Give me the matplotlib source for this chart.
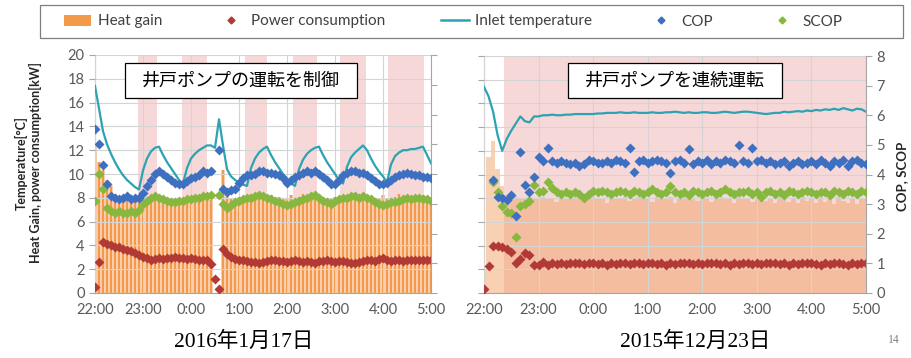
import numpy as np
import matplotlib
matplotlib.use("Agg")
import matplotlib.pyplot as plt
from matplotlib.patches import Patch, Rectangle
from matplotlib.lines import Line2D

plt.rcParams['font.family'] = ['Lato', 'DejaVu Sans']

nan = np.nan

# sampling every 5 minutes from 22:00 to 5:00, in hours after 22:00
minutes = np.arange(0, 421, 5)
hours = minutes / 60
hour_labels = ['22:00', '23:00', '0:00', '1:00', '2:00', '3:00', '4:00', '5:00']

# ---- 2016-01-17 : well pump switched on/off ----
heat_a = [12.5, 11.0, 10.3, 9.5, 9.0, 8.3, 8.0, 7.9, 8.0, 7.8, 8.0, 8.1,
          8.0, 7.9, 8.2, 8.1, 8.0, 7.9, 8.0, 7.8, 7.9, 8.0, 7.8, 8.1,
          8.0, 8.2, 7.9, 8.0, 8.1, 7.8, 0.0, 0.0, 10.3, 8.3, 8.0, 7.9,
          8.1, 8.0, 8.2, 8.3, 8.0, 8.1, 8.4, 8.0, 8.2, 7.9, 8.1, 8.0,
          8.0, 8.2, 7.9, 8.1, 8.3, 8.0, 8.2, 7.9, 8.1, 8.0, 7.8, 8.0,
          8.1, 7.9, 8.2, 8.0, 8.3, 8.1, 7.9, 8.2, 8.0, 8.1, 7.9, 8.0,
          8.2, 8.0, 7.9, 8.1, 8.3, 8.0, 8.2, 8.1, 7.9, 8.0, 8.2, 8.1,
          8.0]
power_a = [0.5, 2.6, 4.3, 4.1, 4.0, 3.9, 3.85, 3.7, 3.6, 3.5, 3.4, 3.2,
           3.0, 2.9, 2.8, 2.85, 2.9, 2.85, 2.9, 2.95, 3.0, 2.95, 2.9, 2.85,
           2.9, 2.85, 2.8, 2.75, 2.8, 2.4, 1.2, 0.3, 3.7, 3.3, 3.0, 2.85,
           2.8, 2.75, 2.7, 2.6, 2.6, 2.55, 2.6, 2.7, 2.75, 2.8, 2.7, 2.65,
           2.6, 2.7, 2.75, 2.65, 2.6, 2.7, 2.6, 2.55, 2.65, 2.7, 2.8, 2.7,
           2.6, 2.65, 2.7, 2.6, 2.5, 2.55, 2.6, 2.7, 2.8, 2.75, 2.7, 2.85,
           2.9, 2.8, 2.7, 2.75, 2.8, 2.7, 2.75, 2.8, 2.8, 2.75, 2.8, 2.8,
           2.75]
inlet_a = [17.4, 15.5, 13.6, 12.5, 11.7, 11.0, 10.4, 9.9, 9.5, 9.2, 8.9, 8.7,
           10.3, 11.3, 11.9, 12.2, 12.3, 11.6, 11.0, 10.5, 10.0, 9.5, 9.2, 10.5,
           11.3, 11.7, 12.0, 12.2, 12.4, 12.4, 12.2, 14.6, 12.4, 10.4, 9.8, 9.5,
           9.3, 9.1, 9.0, 10.5, 11.3, 11.8, 12.1, 12.3, 11.6, 11.0, 10.5, 10.0,
           9.6, 9.2, 9.0, 10.4, 11.2, 11.7, 12.0, 12.2, 12.3, 11.6, 11.0, 10.5,
           10.0, 9.5, 9.2, 10.6, 11.4, 11.8, 12.1, 12.4, 12.0, 11.3, 10.7, 10.2,
           9.8, 9.3, 10.8, 11.5, 11.8, 12.0, 12.0, 12.1, 12.1, 12.2, 12.3, 11.6,
           10.9]
cop_a = [5.5, 5.0, 4.3, 3.65, 3.25, 3.2, 3.15, 3.2, 3.25, 3.15, 3.2, 3.2,
         3.35, 3.6, 3.8, 4.0, 4.1, 4.0, 3.9, 3.8, 3.7, 3.65, 3.65, 3.75,
         3.85, 3.9, 3.95, 4.1, 4.05, 4.1, nan, 4.8, 3.5, 3.4, 3.45, 3.5,
         3.7, 3.85, 3.95, 3.95, 4.0, 4.1, 4.1, 4.05, 4.05, 4.0, 3.95, 3.85,
         3.7, 3.8, 3.9, 3.95, 4.05, 4.1, 4.05, 4.1, 4.0, 3.9, 3.8, 3.65,
         3.65, 3.8, 3.95, 4.05, 4.1, 4.1, 4.05, 4.05, 3.95, 3.85, 3.75, 3.65,
         3.65, 3.7, 3.8, 3.9, 3.95, 4.0, 4.05, 4.0, 3.95, 3.95, 3.9, 3.9,
         3.85]
scop_a = [3.1, 4.0, 3.5, 2.85, 2.75, 2.7, 2.75, 2.7, 2.7, 2.75, 2.7, 2.8,
          3.0, 3.1, 3.2, 3.25, 3.2, 3.15, 3.1, 3.05, 3.05, 3.1, 3.1, 3.15,
          3.15, 3.2, 3.2, 3.25, 3.25, 3.3, nan, 3.3, 3.0, 2.85, 2.95, 3.05,
          3.1, 3.15, 3.2, 3.2, 3.25, 3.3, 3.25, 3.2, 3.15, 3.1, 3.05, 3.0,
          2.95, 3.0, 3.05, 3.1, 3.15, 3.2, 3.25, 3.3, 3.2, 3.1, 3.05, 3.0,
          3.1, 3.15, 3.2, 3.2, 3.25, 3.25, 3.2, 3.25, 3.2, 3.15, 3.05, 3.0,
          2.95, 3.0, 3.05, 3.05, 3.1, 3.15, 3.2, 3.15, 3.2, 3.2, 3.15, 3.15,
          3.1]
# periods with the well pump stopped (hours after 22:00)
stops_a = [(0.90, 1.29), (1.82, 2.34), (3.13, 3.59), (4.13, 4.63), (5.11, 5.64), (6.10, 6.85)]

# ---- 2015-12-23 : well pump running continuously ----
heat_b = [2.0, 11.5, 12.8, 10.5, 9.0, 8.3, 8.0, 8.1, 7.9, 8.0, 8.1, 7.9,
          8.0, 8.1, 7.9, 8.0, 7.7, 8.1, 8.0, 7.9, 8.1, 8.0, 7.8, 8.0,
          8.1, 7.9, 8.0, 7.6, 8.1, 8.0, 7.9, 8.1, 7.8, 8.0, 8.1, 7.9,
          8.0, 7.7, 8.1, 8.0, 7.9, 8.1, 7.6, 8.0, 8.1, 7.9, 8.0, 7.8,
          8.1, 8.0, 7.7, 8.0, 8.1, 7.9, 8.0, 7.6, 8.1, 8.0, 7.9, 7.7,
          8.0, 8.1, 7.8, 8.0, 7.6, 8.1, 8.0, 7.7, 8.0, 7.6, 8.1, 7.8,
          8.0, 7.6, 8.1, 7.7, 8.0, 7.5, 8.1, 7.8, 7.6, 8.0, 7.5, 8.0,
          7.9]
power_b = [0.3, 2.3, 4.0, 4.0, 3.9, 3.7, 3.5, 2.5, 2.9, 3.4, 3.2, 2.4,
           2.4, 2.6, 2.4, 2.5, 2.45, 2.5, 2.45, 2.5, 2.55, 2.5, 2.45, 2.5,
           2.5, 2.45, 2.5, 2.4, 2.5, 2.45, 2.55, 2.5, 2.45, 2.5, 2.5, 2.45,
           2.5, 2.55, 2.45, 2.5, 2.4, 2.5, 2.45, 2.5, 2.55, 2.5, 2.45, 2.5,
           2.45, 2.5, 2.5, 2.55, 2.45, 2.5, 2.4, 2.5, 2.45, 2.55, 2.5, 2.45,
           2.5, 2.45, 2.5, 2.55, 2.5, 2.45, 2.5, 2.4, 2.5, 2.45, 2.5, 2.55,
           2.5, 2.45, 2.4, 2.5, 2.45, 2.5, 2.55, 2.45, 2.4, 2.5, 2.45, 2.5,
           2.5]
inlet_b = [17.4, 16.6, 15.3, 13.3, 12.0, 13.0, 13.7, 14.3, 14.9, 14.5, 14.4, 14.9,
           14.9, 15.0, 15.0, 15.05, 15.0, 15.0, 15.05, 15.05, 15.1, 15.1, 15.1, 15.1,
           15.1, 15.15, 15.15, 15.2, 15.2, 15.2, 15.25, 15.2, 15.2, 15.25, 15.2, 15.2,
           15.2, 15.25, 15.2, 15.2, 15.25, 15.25, 15.3, 15.25, 15.2, 15.25, 15.2, 15.2,
           15.25, 15.25, 15.2, 15.2, 15.25, 15.3, 15.25, 15.2, 15.25, 15.3, 15.3, 15.25,
           15.2, 15.15, 15.1, 15.15, 15.2, 15.2, 15.3, 15.25, 15.3, 15.35, 15.3, 15.4,
           15.35, 15.45, 15.4, 15.5, 15.45, 15.55, 15.45, 15.6, 15.5, 15.4, 15.55, 15.5,
           15.3]
cop_b = [nan, nan, 3.8, 3.25, 3.2, 3.15, 3.3, 2.6, 4.75, 3.65, 3.4, 3.9,
         4.6, 4.45, 4.9, 4.45, 4.4, 4.45, 4.4, 4.35, 4.4, 4.3, 4.35, 4.5,
         4.45, 4.4, 4.4, 4.45, 4.4, 4.5, 4.45, 4.4, 4.9, 4.1, 4.45, 4.5,
         4.4, 4.45, 4.5, 4.45, 4.4, 4.05, 4.45, 4.5, 4.4, 4.85, 4.35, 4.45,
         4.4, 4.5, 4.35, 4.45, 4.4, 4.5, 4.45, 4.4, 5.0, 4.45, 4.4, 4.9,
         4.45, 4.5, 4.4, 4.45, 4.35, 4.4, 4.45, 4.3, 4.4, 4.45, 4.35, 4.4,
         4.45, 4.35, 4.5, 4.4, 4.3, 4.45, 4.4, 4.5, 4.3, 4.45, 4.5, 4.4,
         4.35]
scop_b = [nan, nan, 3.75, 3.4, 2.95, 2.75, 2.7, 1.9, 2.95, 3.0, 3.1, 3.65,
          3.4, 3.45, 3.75, 3.55, 3.4, 3.35, 3.4, 3.35, 3.4, 3.35, 3.2, 3.35,
          3.45, 3.4, 3.45, 3.4, 3.35, 3.4, 3.45, 3.4, 3.35, 3.45, 3.4, 3.35,
          3.4, 3.5, 3.4, 3.35, 3.4, 3.6, 3.4, 3.35, 3.4, 3.3, 3.45, 3.4,
          3.35, 3.4, 3.45, 3.35, 3.4, 3.5, 3.4, 3.35, 3.4, 3.4, 3.45, 3.35,
          3.4, 3.25, 3.4, 3.45, 3.35, 3.4, 3.3, 3.45, 3.4, 3.35, 3.4, 3.45,
          3.4, 3.35, 3.4, 3.4, 3.3, 3.45, 3.4, 3.35, 3.45, 3.4, 3.35, 3.45,
          3.4]
stops_b = [(0.36, 7.0)]

C_HEAT = '#F39A4A'
C_HEAT_FILL = '#F9CDAE'
C_POWER = '#B23A36'
C_INLET = '#2CA3B2'
C_COP = '#3D70C0'
C_SCOP = '#86B840'
C_PINK = '#EFB2B2'
C_AXIS = '#A6A6A6'
C_TEXT = '#595959'


def draw_panel(ax, heat, power, inlet, cop, scop, stops, continuous):
    for a, b in stops:
        ax.axvspan(a, b, color=C_PINK, alpha=0.5, lw=0, zorder=0.5)
    if continuous:
        ax.fill_between(hours, heat, step='mid', color='#F3A468', alpha=0.5, lw=0, zorder=1)
    else:
        ax.fill_between(hours, heat, step='mid', color=C_HEAT_FILL, lw=0, zorder=1)
        ax.bar(hours, heat, width=0.035, color=C_HEAT, lw=0, zorder=1.2)
    ax.plot(hours, inlet, color=C_INLET, lw=1.6, zorder=4)
    ax.plot(hours, power, 'D', ms=5, color=C_POWER, mec='none', zorder=5)

    ax.set_xlim(0, 7)
    ax.set_ylim(0, 20)
    ax.set_xticks(range(8))
    ax.set_xticklabels(hour_labels)
    ax.set_yticks(range(0, 21, 2))
    ax.grid(True, color='#D4D4D4', lw=0.8)
    ax.set_axisbelow(False)
    for s in ('top', 'right'):
        ax.spines[s].set_visible(False)
    for s in ('left', 'bottom'):
        ax.spines[s].set_color(C_AXIS)
    ax.tick_params(axis='y', length=4, color=C_AXIS, labelsize=10.5, labelcolor=C_TEXT)
    ax.tick_params(axis='x', length=0, pad=7, labelsize=10.5, labelcolor=C_TEXT)

    tw = ax.twinx()
    tw.set_ylim(0, 8)
    tw.set_yticks(range(0, 9))
    tw.plot(hours, cop, 'D', ms=5.5, color=C_COP, mec='none', zorder=5)
    tw.plot(hours, scop, 'D', ms=5.5, color=C_SCOP, mec='none', zorder=4)
    for s in ('top', 'left', 'bottom'):
        tw.spines[s].set_visible(False)
    tw.spines['right'].set_color(C_AXIS)
    tw.tick_params(axis='y', length=4, color=C_AXIS, labelsize=10.5, labelcolor=C_TEXT)
    return tw


fig = plt.figure(figsize=(9.12, 3.58), dpi=100)
W, H = 912, 358

ax1 = fig.add_axes([95 / W, 65 / H, 336 / W, 238 / H])
tw1 = draw_panel(ax1, heat_a, power_a, inlet_a, cop_a, scop_a, stops_a, False)
tw1.tick_params(labelright=False)

ax2 = fig.add_axes([484 / W, 65 / H, 382 / W, 237 / H])
tw2 = draw_panel(ax2, heat_b, power_b, inlet_b, cop_b, scop_b, stops_b, True)
ax2.tick_params(labelleft=False)

# legend across the top, with its own frame
handles = [
    Patch(facecolor=C_HEAT, edgecolor='none'),
    Line2D([], [], ls='none', marker='D', ms=3.5, color=C_POWER),
    Line2D([], [], color=C_INLET, lw=1.8),
    Line2D([], [], ls='none', marker='D', ms=3.5, color=C_COP),
    Line2D([], [], ls='none', marker='D', ms=3.5, color=C_SCOP),
]
labels = ['Heat gain', 'Power consumption', 'Inlet temperature', 'COP', 'SCOP']
fig.legend(handles, labels, loc='center', ncol=5, mode='expand',
           bbox_to_anchor=(64 / W, 1 - 38 / H, 778 / W, 33 / H),
           fontsize=11, frameon=False, borderaxespad=0, borderpad=0,
           handlelength=1.8, handletextpad=0.4, labelcolor='#404040')
fig.add_artist(Rectangle((40 / W, 1 - 38 / H), 863 / W, 33 / H, transform=fig.transFigure,
                         facecolor='none', edgecolor='#7F7F7F', lw=0.9))

# axis titles
fig.text(28 / W, 1 - 163 / H, 'Temperature[°C]\nHeat Gain, power consumption[kW]',
         rotation=90, ha='center', va='center', ma='center', fontsize=9,
         fontweight='bold', color='#262626', linespacing=1.1)
fig.text(902 / W, 1 - 176 / H, 'COP, SCOP', rotation=90, ha='center', va='center',
         fontsize=9.5, fontweight='bold', color='#262626')

# operation notes
cjk = ['Noto Sans CJK JP', 'DejaVu Sans']
for x0, w, note in [(125, 232, '井戸ポンプの運転を制御'), (568, 214, '井戸ポンプを連続運転')]:
    fig.add_artist(Rectangle((x0 / W, 1 - 98 / H), w / W, 35 / H, transform=fig.transFigure,
                             facecolor='white', edgecolor='black', lw=0.9, zorder=10))
    fig.text((x0 + w / 2) / W, 1 - 81 / H, note, ha='center', va='center',
             fontsize=13, family=cjk, zorder=11)

# dates under each panel
serif_cjk = ['Liberation Serif', 'Noto Sans CJK JP']
fig.text(244 / W, 1 - 342 / H, '2016年1月17日', ha='center', va='center',
         fontsize=15.5, family=serif_cjk)
fig.text(695 / W, 1 - 342 / H, '2015年12月23日', ha='center', va='center',
         fontsize=15.5, family=serif_cjk)
fig.text(894 / W, 1 - 340 / H, '14', ha='center', va='center', fontsize=8.5,
         color='#808080', family='Liberation Serif')

fig.savefig('out.png', dpi=100)
